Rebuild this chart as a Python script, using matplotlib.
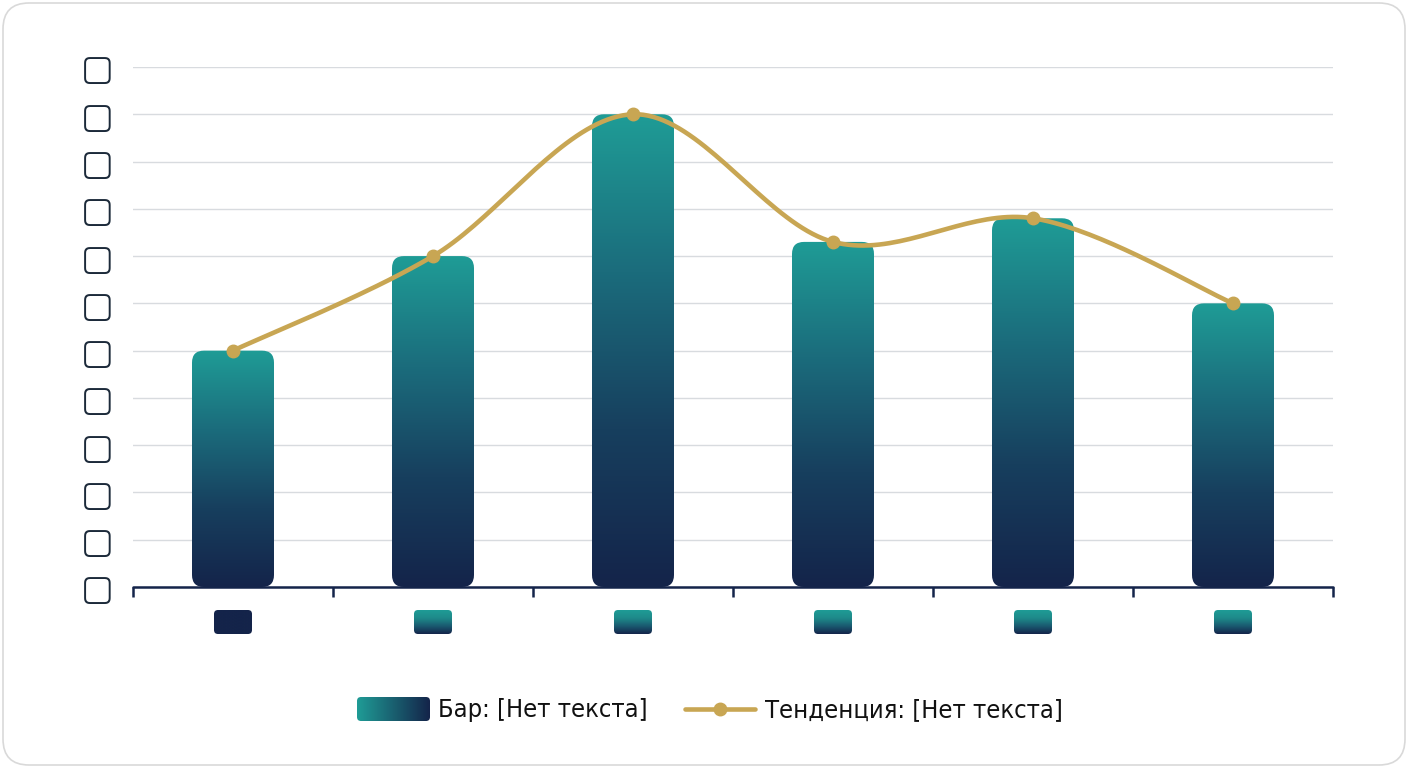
import numpy as np
import matplotlib.pyplot as plt
from matplotlib import font_manager
from matplotlib.ft2font import FT2Font
from matplotlib.colors import LinearSegmentedColormap
from matplotlib.patches import FancyBboxPatch

# values (category names are not legible, only boxes)
categories = ["", "", "", "", "", ""]
bar_values = [5.0, 7.0, 10.0, 7.3, 7.8, 6.0]
trend_values = [5.0, 7.0, 10.0, 7.3, 7.8, 6.0]
y_ticks = list(range(12))
y_labels = ["\u25a2"] * 12
legend_labels = ["Бар: [Нет текста]", "Тенденция: [Нет текста]"]

TEAL = "#1f9c96"
NAVY = "#14244a"
GOLD = "#c8a653"
GRID = "#d8dbdf"
W, H = 1408, 768

bar_cmap = LinearSegmentedColormap.from_list("bar", [NAVY, "#173f5e", "#1b6c7c", TEAL])


def find_narrow_font():
    # a condensed regular face that has Cyrillic, if there is one
    need = {ord(c) for c in "".join(legend_labels) if c != " "}
    for f in sorted(font_manager.fontManager.ttflist, key=lambda f: f.fname):
        narrow = ("Narrow" in f.name or "Condensed" in f.name
                  or f.stretch in ("condensed", "semi-condensed"))
        if not narrow or f.style != "normal" or f.weight not in (400, "normal", "regular"):
            continue
        try:
            cmap = FT2Font(f.fname).get_charmap()
        except Exception:
            continue
        if need.issubset(cmap):
            return font_manager.FontProperties(fname=f.fname), 18.3
    return font_manager.FontProperties(family=["Liberation Sans", "DejaVu Sans"]), 17.5


legend_prop, legend_size = find_narrow_font()
legend_prop.set_size(legend_size)


def catmull_rom(xs, ys, n=40):
    # smooth curve through the points, like the reference's spline line
    xs = np.asarray(xs, float)
    ys = np.asarray(ys, float)
    px = np.concatenate([[xs[0]], xs, [xs[-1]]])
    py = np.concatenate([[ys[0]], ys, [ys[-1]]])
    out_x, out_y = [], []
    t = np.linspace(0, 1, n)
    for i in range(1, len(px) - 2):
        for p, out in ((px, out_x), (py, out_y)):
            p0, p1, p2, p3 = p[i - 1], p[i], p[i + 1], p[i + 2]
            m1 = (p2 - p0) / 2
            m2 = (p3 - p1) / 2
            h00 = 2 * t**3 - 3 * t**2 + 1
            h10 = t**3 - 2 * t**2 + t
            h01 = -2 * t**3 + 3 * t**2
            h11 = t**3 - t**2
            out.extend(h00 * p1 + h10 * m1 + h01 * p2 + h11 * m2)
    return np.array(out_x), np.array(out_y)


def grad_box(axis, x0, y0, w, h, cmap, horizontal, rounding, aspect=1.0, zorder=3):
    patch = FancyBboxPatch((x0, y0), w, h,
                           boxstyle=f"round,pad=0,rounding_size={rounding}",
                           mutation_aspect=aspect, facecolor="none",
                           edgecolor="none", zorder=zorder)
    axis.add_patch(patch)
    g = np.linspace(0, 1, 256)
    grad = g[None, :] if horizontal else g[:, None]
    im = axis.imshow(grad, extent=[x0, x0 + w, y0, y0 + h], origin="lower",
                     cmap=cmap, aspect="auto", interpolation="bicubic",
                     zorder=zorder)
    im.set_clip_path(patch)
    return patch


fig = plt.figure(figsize=(W / 100, H / 100), dpi=100)
fig.patch.set_facecolor("white")

ax_left, ax_right = 133 / W, 1333 / W
ax_bottom, ax_top = (H - 587) / H, (H - 67) / H
ax = fig.add_axes([ax_left, ax_bottom, ax_right - ax_left, ax_top - ax_bottom])

x = np.arange(len(categories))
bar_w = 0.41
ymax = 11
px_per_x = (ax_right - ax_left) * W / len(categories)
px_per_y = (ax_top - ax_bottom) * H / ymax
aspect = px_per_x / px_per_y

for xi, v in zip(x, bar_values):
    grad_box(ax, xi - bar_w / 2, 0, bar_w, v, bar_cmap, False, 0.06, aspect, zorder=2)

sx, sy = catmull_rom(x, trend_values)
ax.plot(sx, sy, color=GOLD, lw=3.3, solid_capstyle="round", zorder=4, clip_on=False)
ax.plot(x, trend_values, "o", color=GOLD, ms=9, zorder=5, clip_on=False)

ax.set_xlim(-0.5, len(categories) - 0.5)
ax.set_ylim(0, ymax)
ax.set_yticks(y_ticks)
ax.set_yticklabels(y_labels, fontsize=25, color="#1c2a3a", family=["DejaVu Sans"])
ax.tick_params(axis="y", length=0, pad=14)
ax.set_xticks(np.arange(-0.5, len(categories), 1.0))
ax.set_xticklabels([])
ax.tick_params(axis="x", length=7, width=1.8, color=NAVY, direction="out")
ax.grid(axis="y", color=GRID, lw=1.0, zorder=0)
ax.set_axisbelow(True)
for side in ["top", "right", "left"]:
    ax.spines[side].set_visible(False)
ax.spines["bottom"].set_color(NAVY)
ax.spines["bottom"].set_linewidth(1.8)
ax.spines["bottom"].set_capstyle("round")
ax.spines["bottom"].set_zorder(6)

# overlay in pixel units for the frame, x label boxes and legend
ov = fig.add_axes([0, 0, 1, 1], zorder=10)
ov.set_xlim(0, W)
ov.set_ylim(0, H)
ov.axis("off")
ov.patch.set_alpha(0)

ov.add_patch(FancyBboxPatch((3, 3), W - 6, H - 6, boxstyle="round,pad=0,rounding_size=26",
                            facecolor="none", edgecolor="#d9d9d9", lw=1.2))

navy_cmap = LinearSegmentedColormap.from_list("navy", [NAVY, NAVY])
tick_cmap = LinearSegmentedColormap.from_list("tick", [NAVY, "#1a5a70", "#1e8a8a", TEAL])
for i, xi in enumerate(x):
    cx = ax.transData.transform((xi, 0))[0]
    grad_box(ov, cx - 19, H - 634, 38, 24, navy_cmap if i == 0 else tick_cmap,
             False, 4)

# legend
leg_cmap = LinearSegmentedColormap.from_list("leg", [TEAL, NAVY])
grad_box(ov, 357, H - 721, 73, 24, leg_cmap, True, 4)
ov.text(438, H - 710, legend_labels[0], fontproperties=legend_prop,
        va="center", ha="left", color="#111111")
ov.plot([685, 755], [H - 709, H - 709], color=GOLD, lw=3.3, solid_capstyle="round")
ov.plot([720], [H - 709], "o", color=GOLD, ms=9)
ov.text(765, H - 710, legend_labels[1], fontproperties=legend_prop,
        va="center", ha="left", color="#111111")

fig.savefig("out.png", dpi=100)
